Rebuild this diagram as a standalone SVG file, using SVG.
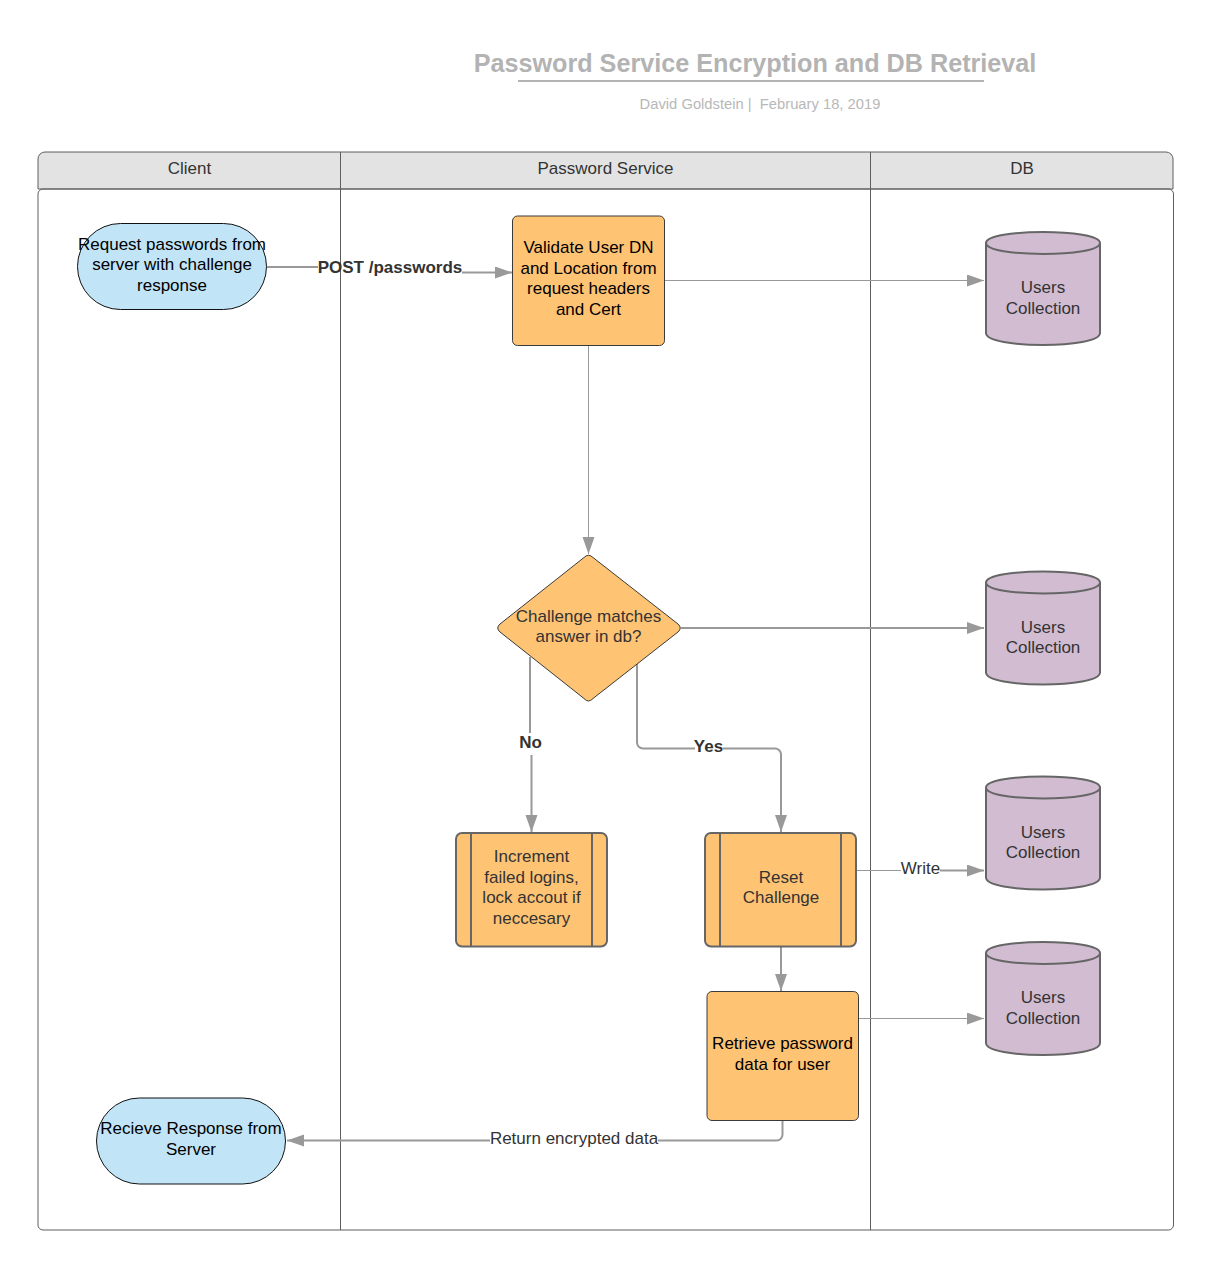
<svg xmlns="http://www.w3.org/2000/svg" width="1212" height="1269" viewBox="0 0 1212 1269">
<style>
text{font-family:"Liberation Sans",Arial,sans-serif;font-size:17px;text-anchor:middle;fill:#333}
.blk{fill:#000}
.b{font-weight:bold}
.lane{fill:none;stroke:#5e5e5e;stroke-width:1}
.proc{fill:#ffc374;stroke:#3a3a3a;stroke-width:1}
.sub{fill:#ffc374;stroke:#666;stroke-width:2}
.term{fill:#c1e4f7;stroke:#111;stroke-width:1}
.db{fill:#d1bcd2;stroke:#666;stroke-width:2}
.c{fill:none;stroke:#999;stroke-width:2}
.t{fill:none;stroke:#999;stroke-width:1}
</style>
<defs>
<marker id="a" markerUnits="userSpaceOnUse" markerWidth="18" markerHeight="14" refX="17" refY="6" orient="auto"><path d="M0 0L17 6L0 12Z" fill="#999"/></marker>
<g id="cyl"><path class="db" d="M0 11C0 -3.700 114 -3.700 114 11V101C114 117 0 117 0 101Z"/><path class="db" d="M0 11C0 25.700 114 25.700 114 11" style="fill:none"/></g>
</defs>
<g id="title">
<text x="755" y="72" style="font-size:25.200px;font-weight:bold;fill:#b3b3b3">Password Service Encryption and DB Retrieval</text>
<path d="M518 81H984" stroke="#b3b3b3" stroke-width="2" fill="none"/>
<text x="760" y="109" style="font-size:14.750px;fill:#b8b8b8" xml:space="preserve">David Goldstein |  February 18, 2019</text>
</g>
<g id="swimlanes">
<path d="M38 189V159a7 7 0 0 1 7-7H1166a7 7 0 0 1 7 7V189Z" fill="#e3e3e3" stroke="#5e5e5e"/>
<rect class="lane" x="38" y="189" width="1135.500" height="1041" rx="5"/>
<path class="lane" d="M340.500 152V1230M870.500 152V1230"/>
<text x="189.500" y="173.500">Client</text>
<text x="605.500" y="173.500">Password Service</text>
<text x="1022" y="173.500">DB</text>
</g>
<g id="connectors">
<path class="c" d="M267 267H318"/>
<path class="c" marker-end="url(#a)" d="M462 272.500H512"/>
<path class="t" marker-end="url(#a)" d="M665 280.500H984"/>
<path class="t" marker-end="url(#a)" d="M588.500 346V554"/>
<path class="c" marker-end="url(#a)" d="M681 628H984"/>
<path class="c" d="M530 657V733"/>
<path class="c" marker-end="url(#a)" d="M531.500 755V832"/>
<path class="c" d="M637 664V742.500a6 6 0 0 0 6 6H695"/>
<path class="c" marker-end="url(#a)" d="M723 748.500H775a6 6 0 0 1 6 6V832"/>
<path class="t" d="M857 870.500H901"/>
<path class="c" marker-end="url(#a)" d="M940 870.500H984"/>
<path class="c" marker-end="url(#a)" d="M781 947V991"/>
<path class="t" marker-end="url(#a)" d="M859 1018.500H984"/>
<path class="c" d="M782.500 1121V1134a6 6 0 0 1-6 6.500H658"/>
<path class="c" marker-end="url(#a)" d="M490 1140.500H287"/>
<text class="b" x="390" y="273">POST /passwords</text>
<text class="b" x="530.500" y="748">No</text>
<text class="b" x="708.500" y="752">Yes</text>
<text x="920.500" y="873.500">Write</text>
<text x="574" y="1143.500">Return encrypted data</text>
</g>
<g id="n-request">
<rect class="term" x="77.500" y="223.500" width="189" height="86" rx="43"/>
<text class="blk" x="172" y="249.500">Request passwords from</text>
<text class="blk" x="172" y="270">server with challenge</text>
<text class="blk" x="172" y="290.500">response</text>
</g>
<g id="n-validate">
<rect class="proc" x="512.500" y="216" width="152" height="129.500" rx="5"/>
<text class="blk" x="588.500" y="253">Validate User DN</text>
<text class="blk" x="588.500" y="273.500">and Location from</text>
<text class="blk" x="588.500" y="294">request headers</text>
<text class="blk" x="588.500" y="314.500">and Cert</text>
</g>
<g id="n-decision">
<path class="proc" d="M584 557.500Q588.500 553 593 557.500L678 624Q682.500 628 678 632L593 698.500Q588.500 703.500 584 698.500L500 632Q495.500 628 500 624Z"/>
<text x="588.500" y="621.500">Challenge matches</text>
<text x="588.500" y="642">answer in db?</text>
</g>
<g id="n-increment">
<rect class="sub" x="456" y="833" width="151" height="113.500" rx="6"/>
<path class="sub" d="M471 833V946.500M592 833V946.500"/>
<text x="531.500" y="862">Increment</text>
<text x="531.500" y="882.500">failed logins,</text>
<text x="531.500" y="903">lock accout if</text>
<text x="531.500" y="923.500">neccesary</text>
</g>
<g id="n-reset">
<rect class="sub" x="705" y="833" width="151" height="113.500" rx="6"/>
<path class="sub" d="M720 833V946.500M841 833V946.500"/>
<text x="781" y="882.500">Reset</text>
<text x="781" y="903">Challenge</text>
</g>
<g id="n-retrieve">
<rect class="proc" x="707" y="991.500" width="151.500" height="129" rx="5"/>
<text class="blk" x="782.500" y="1049">Retrieve password</text>
<text class="blk" x="782.500" y="1069.500">data for user</text>
</g>
<g id="n-response">
<rect class="term" x="96.500" y="1098" width="189" height="86" rx="43"/>
<text class="blk" x="191" y="1134">Recieve Response from</text>
<text class="blk" x="191" y="1154.500">Server</text>
</g>
<g id="n-db1"><use href="#cyl" x="986" y="232"/><text x="1043" y="293">Users</text><text x="1043" y="313.500">Collection</text></g>
<g id="n-db2"><use href="#cyl" x="986" y="571.500"/><text x="1043" y="632.500">Users</text><text x="1043" y="653">Collection</text></g>
<g id="n-db3"><use href="#cyl" x="986" y="776.500"/><text x="1043" y="837.500">Users</text><text x="1043" y="858">Collection</text></g>
<g id="n-db4"><use href="#cyl" x="986" y="942"/><text x="1043" y="1003">Users</text><text x="1043" y="1023.500">Collection</text></g>
</svg>
